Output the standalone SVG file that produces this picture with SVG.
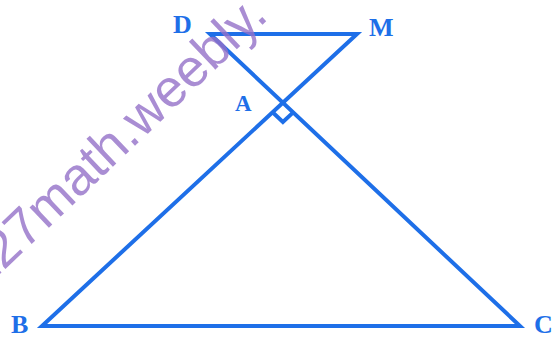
<svg xmlns="http://www.w3.org/2000/svg" width="560" height="338" viewBox="0 0 560 338">
<style>
.ln{fill:none;stroke:#1e6fe8;stroke-width:4;stroke-linejoin:miter}
.lb{font-family:"Liberation Serif","Times New Roman",serif;font-weight:bold;font-size:26px;fill:#1e6fe8}
.wm{font-family:"Liberation Sans",Arial,sans-serif;font-size:53px;fill:#9370c8;fill-opacity:0.8}
</style>
<rect width="560" height="338" fill="#ffffff"/>
<g id="connectors">
<path class="ln" d="M210,34 L357,34 L42,326 L520,326 Z"/>
<path class="ln" d="M272.6,112.3 L282.9,121.9 L293.2,112.4"/>
</g>
<g id="node-D"><text class="lb" x="173" y="33">D</text></g>
<g id="node-M"><text class="lb" x="369" y="36">M</text></g>
<g id="node-A"><text class="lb" x="235" y="111" style="font-size:23px">A</text></g>
<g id="node-B"><text class="lb" x="11" y="333">B</text></g>
<g id="node-C"><text class="lb" x="534" y="333">C</text></g>
<text class="wm" x="-18" y="291" transform="rotate(-43.5,-18,291)">127math.weebly.</text>
</svg>
